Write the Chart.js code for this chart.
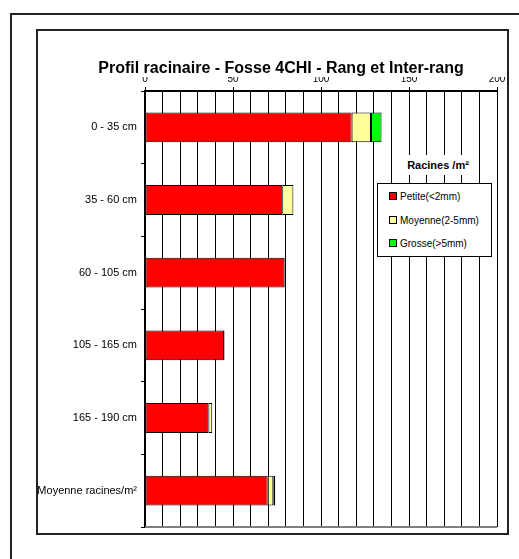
<!DOCTYPE html>
<html>
<head>
<meta charset="utf-8">
<script src="https://cdn.jsdelivr.net/npm/chart.js@4"></script>
<style>
body { margin: 0; background: #fff; font-family: "Liberation Sans", Arial, sans-serif; }
#outer { position: absolute; left: 10px; top: 13px; width: 600px; height: 600px; border: 2px solid #222; }
#inner { position: absolute; left: 36px; top: 29px; width: 469px; height: 502px; border: 2px solid #222; }
#wrap { position: absolute; left: 0; top: 0; width: 519px; height: 559px; }
#chartTitle { position: absolute; left: 81px; top: 58px; width: 400px; text-align: center;
  font-weight: bold; font-size: 16px; line-height: 20px; color: #000; white-space: nowrap; }
#legendTitle { position: absolute; left: 398px; top: 155px; width: 80px; height: 20px; background: #fff;
  font-weight: bold; font-size: 11px; text-align: center; line-height: 20px; }
#legend { position: absolute; left: 377px; top: 183px; width: 113px; height: 72px; border: 1px solid #000; background: #fff; font-size: 10px; }
.item { position: absolute; left: 11px; height: 12px; line-height: 12px; }
.swatch { display: inline-block; width: 6px; height: 6px; border: 1px solid #000; margin-right: 3px; vertical-align: 0px; }
</style>
</head>
<body>
<div id="outer"></div>
<div id="inner"></div>
<div id="wrap"><canvas id="rootChart"></canvas></div>
<div id="chartTitle">Profil racinaire - Fosse 4CHI - Rang et Inter-rang</div>
<div id="legendTitle">Racines /m²</div>
<div id="legend"></div>
<script>
const categories = ['0 - 35 cm', '35 - 60 cm', '60 - 105 cm', '105 - 165 cm', '165 - 190 cm', 'Moyenne racines/m²'];
const petite = [117.4, 78, 79.2, 44.9, 36, 69.7];
const moyenne = [11, 6.3, 0.9, 0.3, 2.2, 3.2];
const grosse = [6, 0, 0, 0, 0, 1.1];
const xLabels = [0, 50, 100, 150, 200];

const fontFam = '"Liberation Sans", Arial, sans-serif';

// gray line along the bottom of the plot area
const bottomLine = {
    id: 'bottomLine',
    afterDraw(chart) {
        const a = chart.chartArea;
        const c = chart.ctx;
        c.save();
        c.strokeStyle = '#808080';
        c.lineWidth = 2;
        c.beginPath();
        c.moveTo(a.left, a.bottom);
        c.lineTo(a.right, a.bottom);
        c.stroke();
        c.restore();
    }
};

const ctx = document.getElementById('rootChart').getContext('2d');
const chart = new Chart(ctx, {
    type: 'bar',
    data: {
        labels: categories,
        datasets: [
            { label: 'Petite(<2mm)', data: petite, backgroundColor: '#FF0000' },
            { label: 'Moyenne(2-5mm)', data: moyenne, backgroundColor: '#FFFF99' },
            { label: 'Grosse(>5mm)', data: grosse, backgroundColor: '#00FF00' }
        ].map(d => Object.assign(d, { borderColor: '#000', borderWidth: 1, borderSkipped: false, barPercentage: 0.41, categoryPercentage: 1 }))
    },
    options: {
        indexAxis: 'y',
        responsive: true,
        maintainAspectRatio: false,
        animation: false,
        layout: { padding: { left: 0, right: 22, top: 77, bottom: 32 } },
        scales: {
            x: {
                position: 'top',
                stacked: true,
                min: 0,
                max: 200,
                afterFit: s => { s.height = 14; },
                ticks: {
                    stepSize: 10,
                    autoSkip: false,
                    maxRotation: 0,
                    padding: 2,
                    color: '#000',
                    font: { family: fontFam, size: 10 },
                    callback: function(value) {
                        return xLabels.includes(value) ? value : '';
                    }
                },
                grid: {
                    color: '#000',
                    lineWidth: 1,
                    tickLength: 4,
                    tickColor: c => (xLabels.includes(c.tick.value) ? '#000' : 'rgba(0,0,0,0)')
                },
                border: { color: '#000', width: 2 }
            },
            y: {
                stacked: true,
                afterFit: s => { s.width = 145; },
                ticks: {
                    padding: 4,
                    color: '#000',
                    font: { family: fontFam, size: 11 }
                },
                grid: {
                    offset: true,
                    drawOnChartArea: false,
                    tickLength: 4,
                    tickColor: '#000'
                },
                border: { color: '#000', width: 1.5 }
            }
        },
        plugins: {
            legend: { display: false },
            tooltip: { enabled: false }
        }
    },
    plugins: [bottomLine]
});

// html legend built from the datasets
const legend = document.getElementById('legend');
const tops = [7, 31, 54];
chart.data.datasets.forEach((ds, i) => {
    const it = document.createElement('div');
    it.className = 'item';
    it.style.top = tops[i] + 'px';
    it.innerHTML = `<span class="swatch" style="background:${ds.backgroundColor}"></span>${ds.label}`;
    legend.appendChild(it);
});
</script>
</body>
</html>
